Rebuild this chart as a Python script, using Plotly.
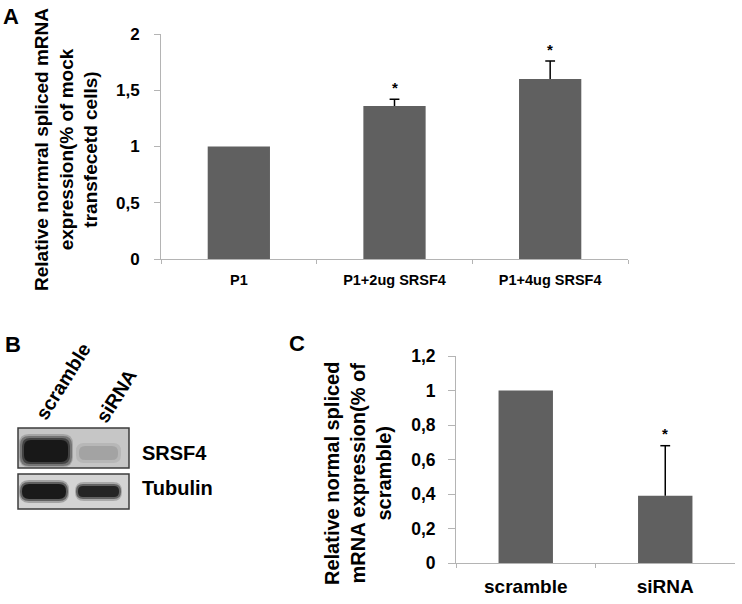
import plotly.graph_objects as go

# ---------------- data ----------------
a_categories = ["P1", "P1+2ug SRSF4", "P1+4ug SRSF4"]
a_values = [1.0, 1.36, 1.60]
a_errors = [0.0, 0.06, 0.16]
a_signif = ["", "*", "*"]
a_ticks = [0, 0.5, 1, 1.5, 2]

c_categories = ["scramble", "siRNA"]
c_values = [1.0, 0.39]
c_errors = [0.0, 0.29]
c_signif = ["", "*"]
c_ticks = [0, 0.2, 0.4, 0.6, 0.8, 1.0, 1.2]

blot_lanes = ["scramble", "siRNA"]
blot_rows = ["SRSF4", "Tubulin"]

W, H = 742, 604
FONT = "Liberation Sans, Arial, sans-serif"
BAR = "#606060"
AXIS = "#b4b4b4"


def px(x):
    return x / W


def py(y):
    return 1 - y / H


fig = go.Figure()


def add_bars(cats, vals, errs, xa, ya, width):
    fig.add_trace(go.Bar(
        x=cats, y=vals, width=width,
        marker=dict(color=BAR, line=dict(width=0)),
        error_y=dict(type="data", array=[e if e > 0 else None for e in errs],
                     arrayminus=[0] * len(errs), symmetric=False,
                     color="#000000", thickness=1.5, width=0),
        xaxis=xa, yaxis=ya, showlegend=False, hoverinfo="x+y",
    ))
    caps = [(c, v + e) for c, v, e in zip(cats, vals, errs) if e > 0]
    fig.add_trace(go.Scatter(
        x=[c for c, _ in caps], y=[t for _, t in caps], mode="markers",
        marker=dict(symbol="line-ew", size=7, line=dict(color="#000000", width=1.5)),
        xaxis=xa, yaxis=ya, showlegend=False, hoverinfo="skip",
    ))


add_bars(a_categories, a_values, a_errors, "x", "y", 0.4)
add_bars(c_categories, c_values, c_errors, "x2", "y2", 0.39)

axis_common = dict(showgrid=False, zeroline=False, showline=True,
                   linecolor=AXIS, linewidth=1, ticks="outside",
                   tickcolor=AXIS, tickwidth=1, automargin=False)

fig.update_layout(
    width=W, height=H,
    margin=dict(l=0, r=0, t=0, b=0, autoexpand=False),
    paper_bgcolor="white", plot_bgcolor="white",
    separators=", ",
    bargap=0.6,
    font=dict(family=FONT, color="#000000"),
    xaxis=dict(domain=[px(161), px(628)], anchor="y", tickson="boundaries", ticklen=4,
               tickfont=dict(size=14.5, family=FONT, weight="bold"),
               ticklabelstandoff=8, **axis_common),
    yaxis=dict(domain=[py(259), py(34)], anchor="x", range=[0, 2], ticklen=6,
               tickvals=a_ticks, ticktext=[("%g" % t).replace(".", ",") for t in a_ticks],
               tickfont=dict(size=17, family=FONT, weight="bold"),
               ticklabelstandoff=11, **axis_common),
    xaxis2=dict(domain=[px(456), px(735)], anchor="y2", tickson="boundaries", ticklen=4,
                tickfont=dict(size=19, family=FONT, weight="bold"),
                ticklabelstandoff=6, **axis_common),
    yaxis2=dict(domain=[py(563), py(356)], anchor="x2", range=[0, 1.2], ticklen=7,
                tickvals=c_ticks, ticktext=[("%g" % t).replace(".", ",") for t in c_ticks],
                tickfont=dict(size=17.5, family=FONT, weight="bold"),
                ticklabelstandoff=9, **axis_common),
)

ann = []
# significance stars
for cat, v, e, s in zip(a_categories, a_values, a_errors, a_signif):
    if s:
        ann.append(dict(x=cat, y=v + e, xref="x", yref="y", text=s, showarrow=False,
                        yanchor="bottom", yshift=1,
                        font=dict(size=15, family=FONT, weight="bold")))
for cat, v, e, s in zip(c_categories, c_values, c_errors, c_signif):
    if s:
        ann.append(dict(x=cat, y=v + e, xref="x2", yref="y2", text=s, showarrow=False,
                        yanchor="bottom", yshift=2,
                        font=dict(size=15, family=FONT, weight="bold")))

# axis titles
ann.append(dict(x=px(66), y=py(150), xref="paper", yref="paper", textangle=-90,
                text="Relative normral spliced mRNA<br>expression(% of mock<br>transfecetd cells)",
                showarrow=False, xanchor="center", yanchor="middle", align="center",
                font=dict(size=19, family=FONT, weight="bold")))
ann.append(dict(x=px(358), y=py(474), xref="paper", yref="paper", textangle=-90,
                text="Relative normal spliced<br>mRNA expression(% of<br>scramble)",
                showarrow=False, xanchor="center", yanchor="middle", align="center",
                font=dict(size=20, family=FONT, weight="bold")))

# panel letters
for letter, x, y in [("A", 11, 16), ("B", 13, 344), ("C", 297, 343)]:
    ann.append(dict(x=px(x), y=py(y), xref="paper", yref="paper", text=letter,
                    showarrow=False, xanchor="center", yanchor="middle",
                    font=dict(size=22, family=FONT, weight="bold")))

# blot lane labels (rotated)
for lane, x, y in zip(blot_lanes, [63, 116], [381, 396]):
    ann.append(dict(x=px(x), y=py(y), xref="paper", yref="paper", text=lane,
                    textangle=-58, showarrow=False, xanchor="center", yanchor="middle",
                    font=dict(size=19.5, family=FONT, weight="bold")))
# blot row labels
for row, y in zip(blot_rows, [453, 488]):
    ann.append(dict(x=px(140), y=py(y), xref="paper", yref="paper", text=row,
                    showarrow=False, xanchor="left", yanchor="middle",
                    font=dict(size=20, family=FONT, weight="bold")))

fig.update_layout(annotations=ann)

# ---------- western blot drawing (decorative) ----------
shapes = []


def rect(x0, y0, x1, y1, fill, line=None, lw=0, opacity=1.0):
    shapes.append(dict(type="rect", xref="paper", yref="paper",
                       x0=px(x0), x1=px(x1), y0=py(y1), y1=py(y0),
                       fillcolor=fill, opacity=opacity,
                       line=dict(color=line or fill, width=lw), layer="above"))


def band(x0, y0, x1, y1, r, fill, opacity):
    X = lambda v: "%.5f" % px(v)
    Y = lambda v: "%.5f" % py(v)
    path = (f"M{X(x0 + r)},{Y(y0)} L{X(x1 - r)},{Y(y0)} Q{X(x1)},{Y(y0)} {X(x1)},{Y(y0 + r)} "
            f"L{X(x1)},{Y(y1 - r)} Q{X(x1)},{Y(y1)} {X(x1 - r)},{Y(y1)} "
            f"L{X(x0 + r)},{Y(y1)} Q{X(x0)},{Y(y1)} {X(x0)},{Y(y1 - r)} "
            f"L{X(x0)},{Y(y0 + r)} Q{X(x0)},{Y(y0)} {X(x0 + r)},{Y(y0)} Z")
    shapes.append(dict(type="path", xref="paper", yref="paper", path=path,
                       fillcolor=fill, opacity=opacity, line=dict(width=0), layer="above"))


# SRSF4 blot
rect(18, 428, 129, 468, "#c6c6c6", "#3c3c3c", 1.5)
band(19, 434, 73, 467, 10, "#555555", 0.3)
band(20, 436, 72, 466, 9, "#3a3a3a", 0.45)
band(22, 438, 70, 464, 8, "#222222", 0.6)
band(24, 440, 68, 462, 7, "#111111", 0.85)
band(76, 443, 121, 463, 8, "#9a9a9a", 0.35)
band(79, 446, 118, 460, 6, "#8c8c8c", 0.45)
# Tubulin blot
rect(18, 474, 129, 509, "#d4d4d4", "#3c3c3c", 1.5)
band(19, 480, 69, 503, 10, "#444444", 0.35)
band(20, 482, 68, 501, 9, "#2a2a2a", 0.55)
band(22, 484, 66, 499, 7, "#131313", 0.9)
band(75, 482, 122, 501, 9, "#444444", 0.3)
band(76, 484, 121, 499, 7, "#2a2a2a", 0.55)
band(78, 486, 119, 497, 5, "#1a1a1a", 0.85)

fig.update_layout(shapes=shapes)

fig.write_html("out.html", config={"displayModeBar": False},
               post_script="document.body.style.margin='0';")
